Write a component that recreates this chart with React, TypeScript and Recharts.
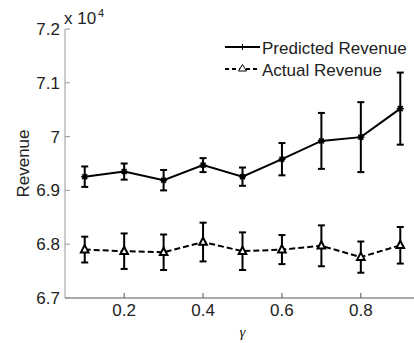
import { ErrorBar, Line, LineChart, XAxis, YAxis } from "recharts";

const GAMMA = [0.1, 0.2, 0.3, 0.4, 0.5, 0.6, 0.7, 0.8, 0.9];
const PREDICTED = [69255, 69350, 69190, 69470, 69255, 69580, 69920, 69990, 70520];
const PREDICTED_ERR = [190, 150, 190, 130, 170, 300, 520, 650, 670];
const ACTUAL = [67900, 67870, 67850, 68040, 67870, 67900, 67970, 67760, 67980];
const ACTUAL_ERR = [240, 330, 330, 360, 350, 270, 380, 290, 340];
const X_TICKS = [0.2, 0.4, 0.6, 0.8];
const Y_TICKS = [67000, 68000, 69000, 70000, 71000, 72000];

const data = GAMMA.map((g, i) => ({
  gamma: g,
  predicted: PREDICTED[i],
  predictedErr: PREDICTED_ERR[i],
  actual: ACTUAL[i],
  actualErr: ACTUAL_ERR[i],
}));

const FONT = '"Liberation Sans", Arial, sans-serif';

function StarDot(props: any) {
  const { cx, cy, index } = props;
  if (cx == null || cy == null) return null;
  const r = 3.5;
  const d = r * 0.7;
  return (
    <g key={`s-${index}`}>
      <line x1={cx - r} y1={cy} x2={cx + r} y2={cy} stroke="#000" strokeWidth={1.6} />
      <line x1={cx} y1={cy - r} x2={cx} y2={cy + r} stroke="#000" strokeWidth={1.6} />
      <line x1={cx - d} y1={cy - d} x2={cx + d} y2={cy + d} stroke="#000" strokeWidth={1.6} />
      <line x1={cx - d} y1={cy + d} x2={cx + d} y2={cy - d} stroke="#000" strokeWidth={1.6} />
      <circle cx={cx} cy={cy} r={2.2} fill="#000" />
    </g>
  );
}

function TriDot(props: any) {
  const { cx, cy, index } = props;
  if (cx == null || cy == null) return null;
  return (
    <polygon
      key={`t-${index}`}
      points={`${cx},${cy - 4.5} ${cx - 3.8},${cy + 2.8} ${cx + 3.8},${cy + 2.8}`}
      fill="#fff"
      stroke="#000"
      strokeWidth={2}
    />
  );
}

export default function App() {
  return (
    <div
      style={{
        position: "absolute",
        left: 0,
        top: 0,
        width: 414,
        height: 343,
        overflow: "hidden",
        background: "#fff",
        fontFamily: FONT,
      }}
    >
      <LineChart
        width={430}
        height={343}
        data={data}
        margin={{ top: 29, right: 10, bottom: 15, left: 15 }}
      >
        <XAxis
          xAxisId="top"
          orientation="top"
          dataKey="gamma"
          type="number"
          domain={[0.05, 0.95]}
          allowDataOverflow
          ticks={X_TICKS}
          height={0}
          tick={false}
          tickSize={-5}
          stroke="#aaa"
        />
        <XAxis
          dataKey="gamma"
          type="number"
          domain={[0.05, 0.95]}
          allowDataOverflow
          ticks={X_TICKS}
          height={30}
          tickSize={-5}
          tickMargin={11}
          stroke="#555"
          tick={{ fill: "#222", fontSize: 17, fontFamily: FONT }}
          tickFormatter={(v) => String(v)}
          label={{
            value: "γ",
            position: "insideBottom",
            offset: -9,
            fill: "#222",
            fontSize: 15,
            fontFamily: '"Liberation Serif", serif',
            fontStyle: "italic",
          }}
        />
        <YAxis
          type="number"
          domain={[67000, 72000]}
          allowDataOverflow
          ticks={Y_TICKS}
          width={50}
          tickSize={-5}
          tickMargin={10}
          stroke="#999"
          tick={{ fill: "#222", fontSize: 17, fontFamily: FONT }}
          tickFormatter={(v) => String(v / 10000)}
          label={{
            value: "Revenue",
            angle: -90,
            position: "insideLeft",
            offset: 8,
            fill: "#222",
            fontSize: 17,
            fontFamily: FONT,
            style: { textAnchor: "middle" },
          }}
        />
        <Line
          dataKey="predicted"
          stroke="#000"
          strokeWidth={2}
          dot={StarDot}
          activeDot={false}
          isAnimationActive={false}
        >
          <ErrorBar
            dataKey="predictedErr"
            direction="y"
            width={3.5}
            stroke="#000"
            strokeWidth={2}
            isAnimationActive={false}
          />
        </Line>
        <Line
          dataKey="actual"
          stroke="#000"
          strokeWidth={2}
          strokeDasharray="6 3"
          dot={TriDot}
          activeDot={false}
          isAnimationActive={false}
        >
          <ErrorBar
            dataKey="actualErr"
            direction="y"
            width={3.5}
            stroke="#000"
            strokeWidth={2}
            isAnimationActive={false}
          />
        </Line>
      </LineChart>
      <svg
        width={414}
        height={343}
        style={{ position: "absolute", left: 0, top: 0, pointerEvents: "none" }}
      >
        <text x={64} y={24} fontSize={17} fill="#222" fontFamily={FONT}>
          x 10
        </text>
        <text x={98} y={17} fontSize={11} fill="#222" fontFamily={FONT}>
          4
        </text>
        <line x1={225} y1={47} x2={260} y2={47} stroke="#000" strokeWidth={2} />
        <line x1={242.5} y1={44} x2={242.5} y2={50} stroke="#000" strokeWidth={1} />
        <text x={262} y={54} fontSize={17} fill="#222" fontFamily={FONT}>
          Predicted Revenue
        </text>
        <line
          x1={225}
          y1={69}
          x2={260}
          y2={69}
          stroke="#000"
          strokeWidth={2}
          strokeDasharray="4 3"
        />
        <polygon
          points="242.5,64.5 238.5,71 246.5,71"
          fill="#fff"
          stroke="#000"
          strokeWidth={1}
        />
        <text x={262} y={75.5} fontSize={17} fill="#222" fontFamily={FONT}>
          Actual Revenue
        </text>
      </svg>
    </div>
  );
}
